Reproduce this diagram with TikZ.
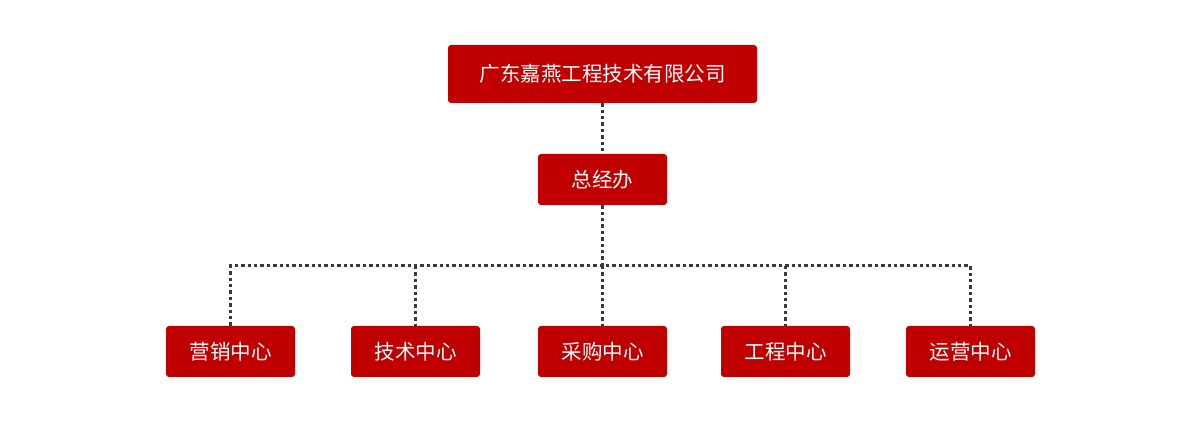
\documentclass[tikz,border=0pt]{standalone}
\usepackage{fontspec}
\newfontfamily\cjk{Noto Sans CJK SC}
\definecolor{boxred}{HTML}{C00000}
\definecolor{linegray}{HTML}{3A3A3A}
\begin{document}
\begin{tikzpicture}[x=1pt,y=1pt,
  orgbox/.style={fill=boxred, rounded corners=3pt, inner sep=0pt, text=white, font=\cjk\fontsize{20.5}{24}\selectfont, anchor=center},
  conn/.style={draw=linegray, line width=3pt, dash pattern=on 3.4pt off 3pt}]
\useasboundingbox (0,0) rectangle (1200,425);
\node[orgbox, minimum width=309pt, minimum height=58pt] (top) at (602.5,351) {广东嘉燕工程技术有限公司};
\node[orgbox, minimum width=129pt, minimum height=51pt] (mid) at (602.5,245.5) {总经办};
\foreach \n/\x/\t in {b1/230.5/营销中心, b2/415.5/技术中心, b3/602.5/采购中心, b4/785.5/工程中心, b5/970.5/运营中心}{
  \node[orgbox, minimum width=129pt, minimum height=51pt] (\n) at (\x,73.5) {\t};
}
\coordinate (j) at (602.5,159);
\draw[conn] (top.south) -- (mid.north);
\draw[conn] (mid.south) -- (j);
\draw[conn] (b1.north) -- (b1.north |- j) -- (b5.north |- j) -- (b5.north);
\foreach \n in {b2,b3,b4}{
  \draw[conn] (\n.north |- j) -- (\n.north);
}
\end{tikzpicture}
\end{document}
